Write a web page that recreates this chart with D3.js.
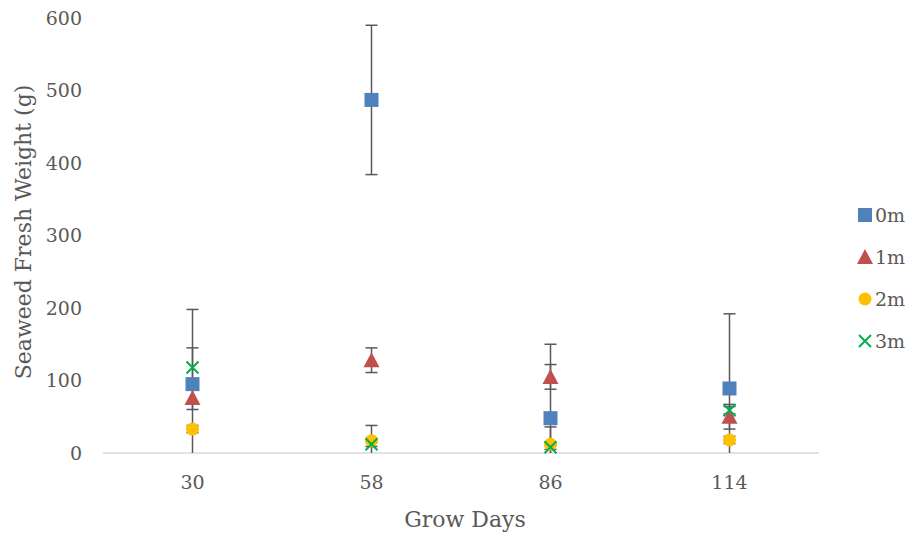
<!DOCTYPE html>
<html>
<head>
<meta charset="utf-8">
<script src="https://cdn.jsdelivr.net/npm/d3@7"></script>
<style>
  body { margin: 0; background: #fff; }
</style>
</head>
<body>
<div id="chart"></div>
<script>
// Chart data
const days = ['30', '58', '86', '114'];
const seriesNames = ['0m', '1m', '2m', '3m'];
const values = {
  '0m': [95, 487, 48, 89],
  '1m': [76, 128, 105, 50],
  '2m': [33, 17, 12, 18],
  '3m': [118, 12, 8, 59]
};
const errors = {
  '0m': [103, 103, 102, 103],
  '1m': [16, 17, 17, 17],
  '2m': [5, 21, 24, 5],
  '3m': [27, 3, 3, 5]
};
const yTicks = [0, 100, 200, 300, 400, 500, 600];
const colors = { '0m': '#4F81BD', '1m': '#C0504D', '2m': '#FFC000', '3m': '#00B050' };
const shapes = { '0m': 'square', '1m': 'triangle', '2m': 'circle', '3m': 'cross' };

const FONT = 'DejaVu Serif, serif';
const W = 914, H = 537;
const plot = { left: 103, right: 819, top: 18, bottom: 453 };

const svg = d3.select('#chart').append('svg')
  .attr('width', W).attr('height', H);

const x = d3.scaleBand().domain(days).range([plot.left, plot.right]);
const y = d3.scaleLinear().domain([0, 600]).range([plot.bottom, plot.top]);
const cx = d => x(d) + x.bandwidth() / 2;

function label(g, size) {
  return g.append('text').attr('font-family', FONT).attr('font-size', size)
    .attr('fill', '#595959');
}

// Y axis labels (no line)
yTicks.forEach(t => {
  label(svg, 19).attr('x', 82).attr('y', y(t)).attr('dy', '0.35em')
    .attr('text-anchor', 'end').text(t);
});

// X axis line
svg.append('line')
  .attr('x1', plot.left).attr('x2', plot.right)
  .attr('y1', y(0)).attr('y2', y(0))
  .attr('stroke', '#d9d9d9').attr('stroke-width', 1.5);

days.forEach(d => {
  label(svg, 19).attr('x', cx(d)).attr('y', 489).attr('text-anchor', 'middle').text(d);
});

// Axis titles
label(svg, 22).attr('x', (plot.left + plot.right) / 2 + 4).attr('y', 527)
  .attr('text-anchor', 'middle').text('Grow Days');

label(svg, 22)
  .attr('transform', `translate(31,232) rotate(-90)`)
  .attr('text-anchor', 'middle').text('Seaweed Fresh Weight (g)');

// Error bars
const errG = svg.append('g');
seriesNames.forEach(s => {
  days.forEach((d, i) => {
    const v = values[s][i], e = errors[s][i];
    const top = y(v + e), bot = y(Math.max(0, v - e));
    const px = cx(d);
    errG.append('line').attr('x1', px).attr('x2', px).attr('y1', top).attr('y2', bot)
      .attr('stroke', '#595959').attr('stroke-width', 1.5);
    errG.append('line').attr('x1', px - 6).attr('x2', px + 6).attr('y1', top).attr('y2', top)
      .attr('stroke', '#595959').attr('stroke-width', 1.5);
    if (v - e > 0) {
      errG.append('line').attr('x1', px - 6).attr('x2', px + 6).attr('y1', bot).attr('y2', bot)
        .attr('stroke', '#595959').attr('stroke-width', 1.5);
    }
  });
});

// Marker drawing helper
function drawMarker(g, shape, color, px, py) {
  if (shape === 'square') {
    g.append('rect').attr('x', px - 7).attr('y', py - 7).attr('width', 14).attr('height', 14)
      .attr('fill', color);
  } else if (shape === 'triangle') {
    g.append('path').attr('d', `M${px},${py - 8}L${px + 8},${py + 7}L${px - 8},${py + 7}Z`)
      .attr('fill', color);
  } else if (shape === 'circle') {
    g.append('circle').attr('cx', px).attr('cy', py).attr('r', 6.5).attr('fill', color);
  } else {
    g.append('path').attr('d', `M${px - 6},${py - 6}L${px + 6},${py + 6}M${px + 6},${py - 6}L${px - 6},${py + 6}`)
      .attr('stroke', color).attr('stroke-width', 2).attr('fill', 'none');
  }
}

const markG = svg.append('g');
seriesNames.forEach(s => {
  days.forEach((d, i) => drawMarker(markG, shapes[s], colors[s], cx(d), y(values[s][i])));
});

// Legend
const legG = svg.append('g');
seriesNames.forEach((s, i) => {
  const ly = 215 + i * 42;
  drawMarker(legG, shapes[s], colors[s], 865, ly);
  label(legG, 19).attr('x', 875).attr('y', ly).attr('dy', '0.35em').text(s);
});
</script>
</body>
</html>
